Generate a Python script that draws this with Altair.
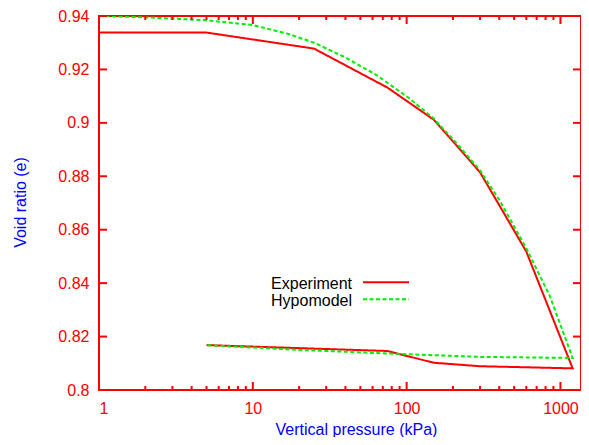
import altair as alt
import pandas as pd

# ---- data ----
series_names = ["Experiment", "Hypomodel"]

exp_p = [1, 5, 25, 75, 150, 300, 600, 1200, 300, 150, 75, 5]
exp_e = [0.9338, 0.9338, 0.9278, 0.9132, 0.9012, 0.8815, 0.8518, 0.8081,
         0.8089, 0.8102, 0.8146, 0.8168]

hypo_p = [1, 2, 5, 10, 17, 25, 40, 64, 104, 150, 208, 300, 400, 600, 850, 1200,
          300, 100, 20, 5]
hypo_e = [0.9400, 0.9395, 0.9384, 0.9366, 0.9333, 0.9300, 0.9245, 0.9178, 0.9092,
          0.9016, 0.8928, 0.8822, 0.8712, 0.8530, 0.8354, 0.8120,
          0.8124, 0.8134, 0.8150, 0.8168]

x_major = [1, 10, 100, 1000]
x_minor = [2, 3, 4, 5, 6, 7, 8, 9, 20, 30, 40, 50, 60, 70, 80, 90,
           200, 300, 400, 500, 600, 700, 800, 900]
y_major = [0.80, 0.82, 0.84, 0.86, 0.88, 0.90, 0.92, 0.94]

RED = "#ff0000"
GREEN = "#00ee00"
BLUE = "#0000ff"
FONT = "Liberation Sans"
W, H = 482, 374

rows = []
for i, (p, e) in enumerate(zip(exp_p, exp_e)):
    rows.append({"series": series_names[0], "p": p, "e": e, "order": i})
for i, (p, e) in enumerate(zip(hypo_p, hypo_e)):
    rows.append({"series": series_names[1], "p": p, "e": e, "order": i})
df = pd.DataFrame(rows)

x_scale = alt.Scale(type="log", domain=[1, 1360], nice=False)
y_scale = alt.Scale(domain=[0.8, 0.94], nice=False, zero=False)

x_axis = alt.Axis(values=x_major, format="d", grid=False, domain=False, ticks=False,
                  labelPadding=10, titleX=257, titleY=44, titleAlign="center",
                  titleBaseline="alphabetic")
y_axis = alt.Axis(values=y_major, format=".2~f", grid=False, domain=False, ticks=False,
                  labelPadding=10, titleX=-74, titleY=186, titleAlign="center",
                  titleBaseline="alphabetic", titleAngle=270)

X_TITLE = "Vertical pressure (kPa)"
Y_TITLE = "Void ratio (e)"


def X(field="p:Q"):
    return alt.X(field, scale=x_scale, axis=x_axis, title=X_TITLE)


def Y(field="e:Q"):
    return alt.Y(field, scale=y_scale, axis=y_axis, title=Y_TITLE)


lines = alt.Chart(df).mark_line(strokeWidth=2, clip=True).encode(
    x=X(), y=Y(),
    color=alt.Color("series:N", scale=alt.Scale(domain=series_names, range=[RED, GREEN]),
                    legend=None),
    strokeDash=alt.StrokeDash("series:N",
                              scale=alt.Scale(domain=series_names, range=[[1, 0], [4, 2.5]]),
                              legend=None),
    order="order:Q",
)

xmaj = pd.DataFrame({"p": x_major})
xmin = pd.DataFrame({"p": x_minor})
ymaj = pd.DataFrame({"e": y_major})

tick_layers = [
    alt.Chart(xmaj).mark_rule(color=RED, strokeWidth=2).encode(
        x=X(), y=alt.value(H), y2=alt.value(H - 8)),
    alt.Chart(xmaj).mark_rule(color=RED, strokeWidth=2).encode(
        x=X(), y=alt.value(0), y2=alt.value(8)),
    alt.Chart(xmin).mark_rule(color=RED, strokeWidth=2).encode(
        x=X(), y=alt.value(H), y2=alt.value(H - 4)),
    alt.Chart(xmin).mark_rule(color=RED, strokeWidth=2).encode(
        x=X(), y=alt.value(0), y2=alt.value(4)),
    alt.Chart(ymaj).mark_rule(color=RED, strokeWidth=2).encode(
        y=Y(), x=alt.value(0), x2=alt.value(8)),
    alt.Chart(ymaj).mark_rule(color=RED, strokeWidth=2).encode(
        y=Y(), x=alt.value(W), x2=alt.value(W - 8)),
]

leg0 = pd.DataFrame({"series": [series_names[0]]})
leg1 = pd.DataFrame({"series": [series_names[1]]})
legend_layers = [
    alt.Chart(leg0).mark_text(align="right", baseline="alphabetic", fontSize=16,
                              font=FONT, color="#000000").encode(
        x=alt.value(253), y=alt.value(272.5), text="series:N"),
    alt.Chart(leg1).mark_text(align="right", baseline="alphabetic", fontSize=16,
                              font=FONT, color="#000000").encode(
        x=alt.value(253), y=alt.value(289.5), text="series:N"),
    alt.Chart(leg0).mark_rule(color=RED, strokeWidth=2).encode(
        x=alt.value(264), x2=alt.value(310), y=alt.value(266.3)),
    alt.Chart(leg1).mark_rule(color=GREEN, strokeWidth=2, strokeDash=[4, 2.5]).encode(
        x=alt.value(264), x2=alt.value(310), y=alt.value(283.3)),
]

chart = alt.layer(lines, *tick_layers, *legend_layers).properties(
    width=W, height=H,
    autosize=alt.AutoSizeParams(type="none"),
    padding={"left": 91, "top": 8, "right": 0, "bottom": 47},
).configure_view(
    stroke=RED, strokeWidth=2,
).configure_axis(
    labelFont=FONT, labelFontSize=16, labelColor=RED,
    titleFont=FONT, titleFontSize=16, titleColor=BLUE, titleFontWeight="normal",
)

chart.save("out.html", embed_options={"renderer": "svg", "actions": False})
